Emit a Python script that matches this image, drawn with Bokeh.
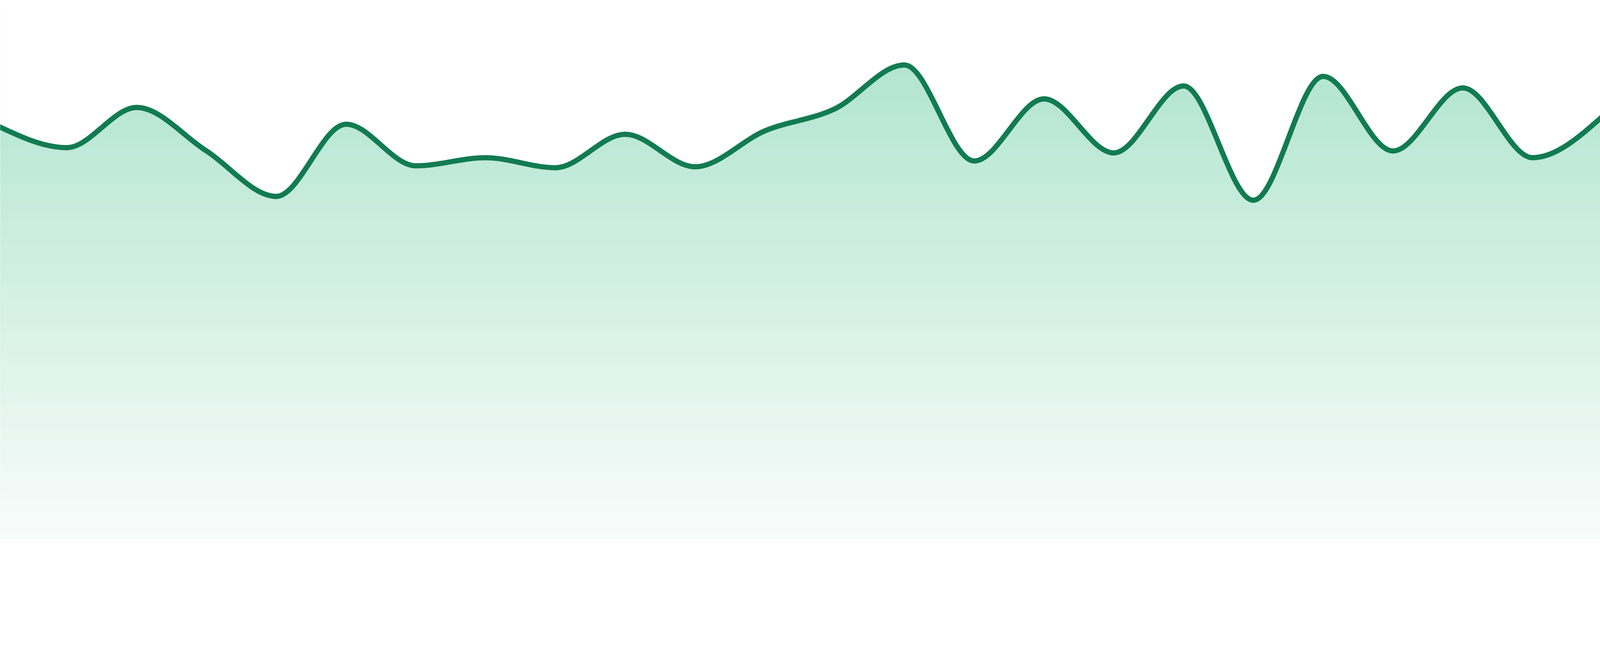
import numpy as np
from bokeh.plotting import figure
from bokeh.models import Range1d, ColumnDataSource
from bokeh.embed import file_html
from bokeh.resources import INLINE

# ---- data ----
index = list(range(24))
values = [87.3, 82.7, 91.1, 82.0, 72.5, 87.6, 78.9, 80.6, 78.5, 85.5, 78.7, 86.2,
          90.8, 100.0, 79.9, 92.9, 81.6, 95.6, 71.7, 97.6, 82.0, 95.2, 80.6, 89.2]

LINE_COLOR = "#127b52"
FILL_TOP = (178, 229, 208)
FILL_BOTTOM = (249, 252, 251)


# ---- monotone-X cubic curve (same rule as d3.curveMonotoneX) ----
def _sign(v):
    return -1.0 if v < 0 else 1.0


def monotone_tangents(x, y):
    n = len(x)
    t = np.zeros(n)
    for i in range(1, n - 1):
        h0 = x[i] - x[i - 1]
        h1 = x[i + 1] - x[i]
        s0 = (y[i] - y[i - 1]) / h0
        s1 = (y[i + 1] - y[i]) / h1
        p = (s0 * h1 + s1 * h0) / (h0 + h1)
        t[i] = (_sign(s0) + _sign(s1)) * min(abs(s0), abs(s1), 0.5 * abs(p))
    h = x[1] - x[0]
    t[0] = (3 * (y[1] - y[0]) / h - t[1]) / 2
    h = x[-1] - x[-2]
    t[-1] = (3 * (y[-1] - y[-2]) / h - t[-2]) / 2
    return t


xa = np.array(index, dtype=float)
ya = np.array(values, dtype=float)
tg = monotone_tangents(xa, ya)

x0, y0 = xa[:-1], ya[:-1]
x1, y1 = xa[1:], ya[1:]
dx = (x1 - x0) / 3.0
cx0, cy0 = x0 + dx, y0 + dx * tg[:-1]
cx1, cy1 = x1 - dx, y1 - dx * tg[1:]

# outline of the curve for the filled area
ss = np.linspace(0, 1, 48)[:, None]
bx = ((1 - ss) ** 3 * x0 + 3 * (1 - ss) ** 2 * ss * cx0 + 3 * (1 - ss) * ss ** 2 * cx1 + ss ** 3 * x1)
by = ((1 - ss) ** 3 * y0 + 3 * (1 - ss) ** 2 * ss * cy0 + 3 * (1 - ss) * ss ** 2 * cy1 + ss ** 3 * y1)
curve_x = bx.T.reshape(-1)
curve_y = by.T.reshape(-1)

# ---- figure geometry ----
K = 1.168                      # screen pixels per CSS pixel
REF_W, REF_H = 4800, 1680      # picture size in screen pixels
MARGIN = 8                     # page margin (CSS px)
W = int(round(REF_W / K)) - MARGIN
H = int(round(REF_H / K)) - 2 * MARGIN
PX_PER_UNIT = 14.3             # screen px per value unit
BASE_PX = 1633                 # screen y of value 0
STEP = REF_W / 23              # screen px per index step

left_px = MARGIN * K
right_px = (MARGIN + W) * K
top_px = MARGIN * K
bottom_px = (MARGIN + H) * K

p = figure(width=W, height=H,
           x_range=Range1d(left_px / STEP, right_px / STEP),
           y_range=Range1d((BASE_PX - bottom_px) / PX_PER_UNIT,
                           (BASE_PX - top_px) / PX_PER_UNIT),
           output_backend="svg", toolbar_location=None,
           x_axis_location=None, y_axis_location=None,
           min_border=0, outline_line_color=None,
           background_fill_color="white", border_fill_color="white")
p.grid.visible = False

# vertical gradient under the curve
rows = 1600
img = np.empty((rows, 2), dtype=np.uint32)
view = img.view(dtype=np.uint8).reshape((rows, 2, 4))
top_val = 112.0
for r in range(rows):
    yv = top_val * r / (rows - 1)
    f = min(yv / 100.0, 1.0)
    for c in range(3):
        view[r, :, c] = int(round(FILL_BOTTOM[c] + (FILL_TOP[c] - FILL_BOTTOM[c]) * f))
    view[r, :, 3] = 255
p.image_rgba(image=[img], x=0, y=0, dw=23, dh=top_val)

# white above the curve
p.varea(x=curve_x, y1=curve_y, y2=np.full_like(curve_y, 130.0),
        fill_color="white", fill_alpha=1.0)

# the line itself
src = ColumnDataSource(dict(x0=x0, y0=y0, x1=x1, y1=y1,
                            cx0=cx0, cy0=cy0, cx1=cx1, cy1=cy1))
p.bezier(x0="x0", y0="y0", x1="x1", y1="y1", cx0="cx0", cy0="cy0",
         cx1="cx1", cy1="cy1", source=src,
         line_color=LINE_COLOR, line_width=13.3, line_cap="round")

open("out.html", "w").write(file_html(p, INLINE))
